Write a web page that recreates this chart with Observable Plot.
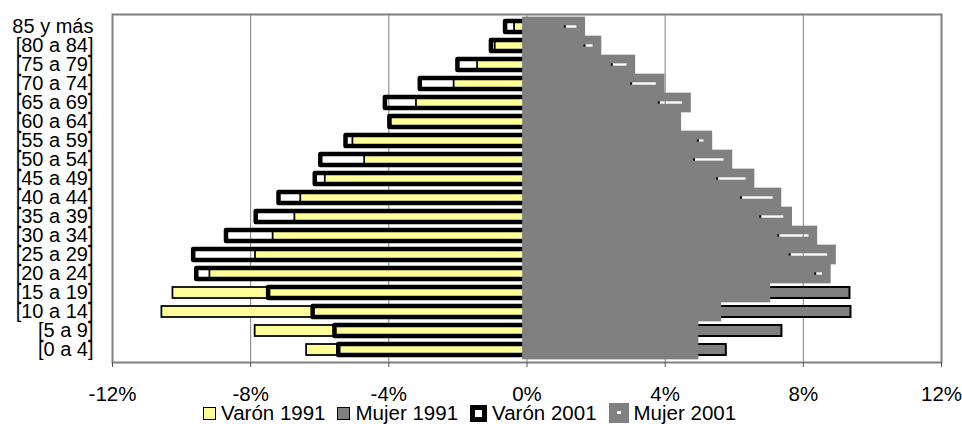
<!DOCTYPE html>
<html>
<head>
<meta charset="utf-8">
<script src="https://cdn.jsdelivr.net/npm/d3@7"></script>
<script src="https://cdn.jsdelivr.net/npm/@observablehq/plot@0.6"></script>
<style>
  html, body { margin: 0; padding: 0; background: #fff; }
  #wrap { position: relative; width: 962px; height: 424px; overflow: hidden; font-family: "Liberation Sans", Arial, sans-serif; }
  #legend { position: absolute; left: 203px; top: 402px; height: 22px; display: flex; align-items: center; font-size: 20.5px; line-height: 22px; color: #000; white-space: nowrap; }
  .item { display: flex; align-items: center; margin-right: 12px; }
  .label { margin-left: 5px; }
  .sw { box-sizing: border-box; }
</style>
</head>
<body>
<div id="wrap"><div id="chart"></div><div id="legend"></div></div>
<script>
// Age groups (top to bottom)
const ages = ["85 y más","[80 a 84]","[75 a 79]","[70 a 74]","[65 a 69]","[60 a 64]","[55 a 59]","[50 a 54]","[45 a 49]","[40 a 44]","[35 a 39]","[30 a 34]","[25 a 29]","[20 a 24]","[15 a 19]","[10 a 14]","[5 a 9]","[0 a 4]"];
// Share of population (%), men drawn to the left
const varon1991 = [0.36, 0.92, 1.43, 2.11, 3.20, 3.94, 5.04, 4.70, 5.84, 6.55, 6.72, 7.35, 7.86, 9.18, 10.25, 10.57, 7.87, 6.38];
const mujer1991 = [1.11, 1.68, 2.47, 3.03, 3.83, 4.42, 4.96, 4.85, 5.52, 6.21, 6.77, 7.29, 7.62, 8.36, 9.35, 9.38, 7.38, 5.77];
const varon2001 = [0.62, 1.03, 2.00, 3.09, 4.10, 3.97, 5.24, 5.97, 6.13, 7.18, 7.84, 8.70, 9.65, 9.56, 7.48, 6.19, 5.56, 5.45];
const mujer2001 = [1.57, 2.04, 3.02, 3.87, 4.63, 4.35, 5.25, 5.83, 6.47, 7.25, 7.56, 8.29, 8.83, 8.68, 6.93, 5.51, 4.85, 4.85];
const xTicks = [-12, -8, -4, 0, 4, 8, 12];
const seriesNames = ["Varón 1991", "Mujer 1991", "Varón 2001", "Mujer 2001"];

const rows = ages.map((age, i) => ({
  age,
  v91: -varon1991[i],
  m91: mujer1991[i],
  v01: -varon2001[i],
  m01: mujer2001[i]
}));

const YELLOW = "#ffff99", GRAY = "#808080";

const chart = Plot.plot({
  width: 962,
  height: 402,
  marginLeft: 112,
  marginRight: 21,
  marginTop: 14,
  marginBottom: 40,
  style: { fontFamily: "'Liberation Sans', Arial, sans-serif", fontSize: "20px", color: "#000", background: "#fff", overflow: "visible" },
  x: { domain: [-12, 12], label: null },
  y: { domain: ages, padding: 0, label: null },
  marks: [
    Plot.gridX(xTicks, { stroke: GRAY, strokeOpacity: 1, strokeWidth: 1 }),
    // Varón 1991
    Plot.barX(rows, { y: "age", x1: d => 0, x2: "v91", fill: YELLOW, stroke: "#000", strokeWidth: 1.75, insetTop: 4, insetBottom: 4 }),
    // Mujer 1991
    Plot.barX(rows, { y: "age", x1: d => 0, x2: "m91", fill: GRAY, stroke: "#000", strokeWidth: 2, insetTop: 4, insetBottom: 4 }),
    // Varón 2001 (outline only)
    Plot.barX(rows, { y: "age", x1: d => 0, x2: "v01", fill: "none", stroke: "#000", strokeWidth: 4.5, strokeLinejoin: "round", insetTop: 4, insetBottom: 4 }),
    // Mujer 2001 (thick gray outline)
    Plot.barX(rows, { y: "age", x1: d => 0, x2: "m01", fill: "none", stroke: GRAY, strokeWidth: 8.7, insetTop: 4, insetBottom: 4 }),
    Plot.frame({ stroke: GRAY, strokeWidth: 2 }),
    Plot.axisX({ ticks: xTicks, tickFormat: d => `${d}%`, tickSize: 5, tickPadding: 19, fontSize: 20.5, stroke: "#555", fill: "#000", label: null }),
    Plot.axisY({ tickSize: 0, tickPadding: 19, fontSize: 20, fill: "#000", label: null })
  ]
});
document.getElementById("chart").appendChild(chart);

// Legend
const swatchStyles = {
  "Varón 1991": { w: 13, h: 13, bg: YELLOW, border: "1.5px solid #000" },
  "Mujer 1991": { w: 13, h: 13, bg: GRAY, border: "1.5px solid #000" },
  "Varón 2001": { w: 17, h: 17, bg: "#fff", border: "5.5px solid #000" },
  "Mujer 2001": { w: 20, h: 20, bg: GRAY, border: "none", dot: true }
};
const legend = d3.select("#legend");
seriesNames.forEach(name => {
  const s = swatchStyles[name];
  const item = legend.append("div").attr("class", "item");
  const sw = item.append("div").attr("class", "sw")
    .style("width", s.w + "px").style("height", s.h + "px")
    .style("background", s.bg).style("border", s.border)
    .style("position", "relative");
  if (s.dot) {
    sw.append("div").style("position", "absolute").style("left", "8px").style("top", "8px")
      .style("width", "4px").style("height", "3px").style("background", "#fff");
  }
  item.append("span").attr("class", "label").text(name);
});
</script>
</body>
</html>
